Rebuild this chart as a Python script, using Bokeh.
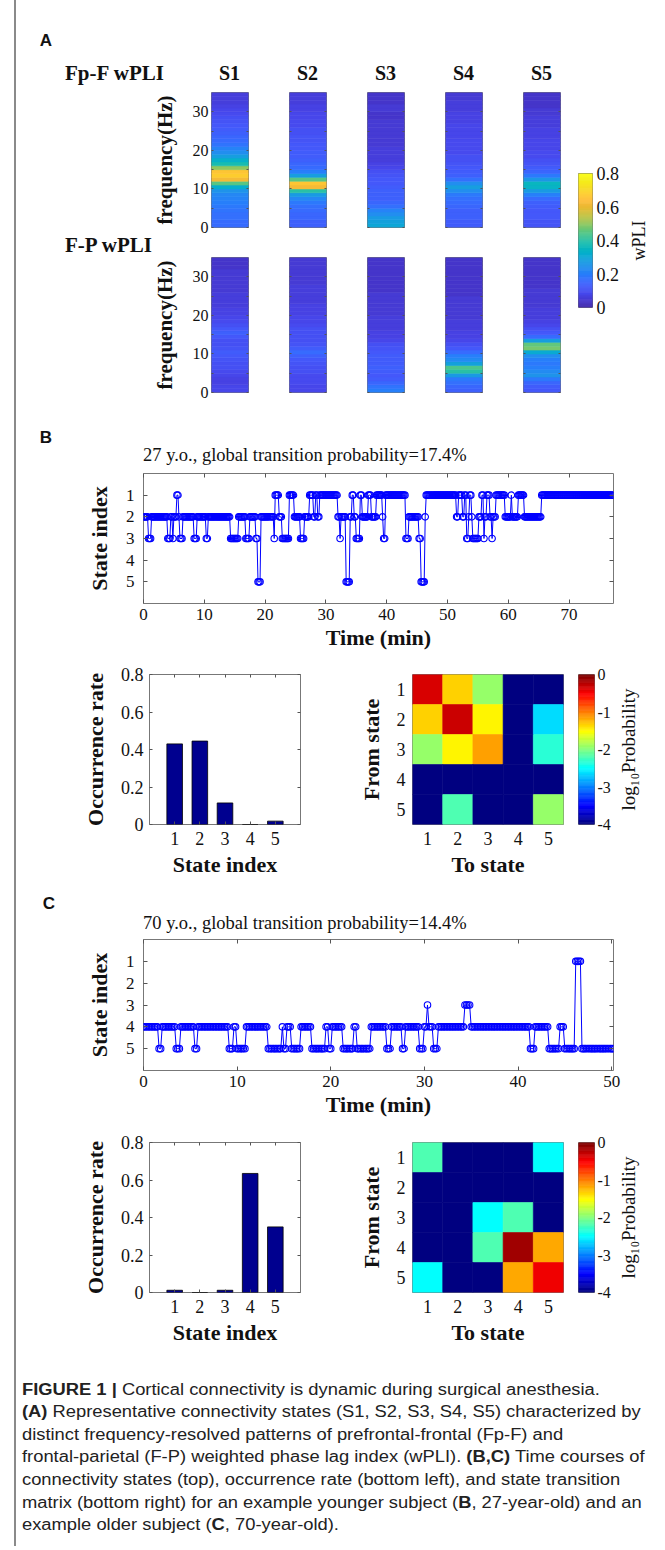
import numpy as np
from bokeh.plotting import figure
from bokeh.layouts import row, column
from bokeh.models import Div, Spacer, LinearAxis, FixedTicker, Range1d, ColumnDataSource
from bokeh.transform import linear_cmap
from bokeh.embed import file_html
from bokeh.resources import INLINE

SERIF = "Liberation Serif"
SANS = "Liberation Sans"

# ---------------- Panel A data: wPLI per 1-Hz bin (0-1 Hz ... 34-35 Hz) ----------------
state_names = ["S1", "S2", "S3", "S4", "S5"]
freq_max_hz = 35
wpli_low, wpli_high = 0.0, 0.8
wpli_ticks = [0, 0.2, 0.4, 0.6, 0.8]
freq_ticks = [0, 10, 20, 30]

fpf_S1 = [0.16, 0.16, 0.17, 0.17, 0.18, 0.19, 0.20, 0.21, 0.22, 0.25, 0.32, 0.45, 0.62, 0.68, 0.66, 0.50, 0.38, 0.33,
          0.28, 0.24, 0.21, 0.18, 0.16, 0.15, 0.14, 0.13, 0.12, 0.11, 0.10, 0.09, 0.08, 0.07, 0.06, 0.06, 0.06]
fpf_S2 = [0.14, 0.14, 0.15, 0.15, 0.16, 0.17, 0.19, 0.22, 0.27, 0.40, 0.62, 0.66, 0.45, 0.28, 0.20, 0.16, 0.15, 0.14,
          0.13, 0.13, 0.12, 0.12, 0.11, 0.11, 0.10, 0.10, 0.09, 0.09, 0.08, 0.08, 0.07, 0.07, 0.06, 0.06, 0.06]
fpf_S3 = [0.30, 0.29, 0.27, 0.24, 0.21, 0.17, 0.15, 0.14, 0.14, 0.14, 0.13, 0.12, 0.12, 0.11, 0.10, 0.08, 0.07, 0.06,
          0.06, 0.06, 0.06, 0.05, 0.05, 0.05, 0.05, 0.05, 0.05, 0.05, 0.04, 0.04, 0.05, 0.05, 0.04, 0.04, 0.04]
fpf_S4 = [0.13, 0.13, 0.14, 0.14, 0.14, 0.15, 0.16, 0.17, 0.19, 0.24, 0.28, 0.24, 0.17, 0.14, 0.13, 0.12, 0.11, 0.10,
          0.10, 0.09, 0.09, 0.09, 0.09, 0.08, 0.08, 0.08, 0.08, 0.07, 0.07, 0.07, 0.06, 0.06, 0.06, 0.05, 0.05]
fpf_S5 = [0.11, 0.11, 0.12, 0.12, 0.12, 0.13, 0.14, 0.16, 0.20, 0.27, 0.34, 0.35, 0.26, 0.19, 0.15, 0.13, 0.11, 0.10,
          0.09, 0.09, 0.08, 0.08, 0.08, 0.07, 0.07, 0.07, 0.06, 0.06, 0.06, 0.05, 0.05, 0.04, 0.04, 0.04, 0.04]

fp_S1 = [0.08, 0.08, 0.07, 0.07, 0.08, 0.09, 0.10, 0.10, 0.11, 0.12, 0.13, 0.11, 0.10, 0.10, 0.12, 0.14, 0.12, 0.10,
         0.09, 0.08, 0.07, 0.07, 0.06, 0.06, 0.06, 0.06, 0.05, 0.05, 0.05, 0.05, 0.05, 0.05, 0.04, 0.04, 0.04]
fp_S2 = [0.08, 0.08, 0.09, 0.09, 0.09, 0.10, 0.10, 0.11, 0.12, 0.14, 0.16, 0.13, 0.11, 0.10, 0.10, 0.10, 0.10, 0.09,
         0.08, 0.08, 0.07, 0.07, 0.07, 0.06, 0.06, 0.06, 0.06, 0.06, 0.05, 0.05, 0.05, 0.05, 0.05, 0.05, 0.05]
fp_S3 = [0.20, 0.18, 0.15, 0.13, 0.12, 0.13, 0.14, 0.13, 0.13, 0.13, 0.12, 0.11, 0.10, 0.08, 0.07, 0.07, 0.06, 0.06,
         0.06, 0.06, 0.05, 0.05, 0.05, 0.05, 0.05, 0.05, 0.04, 0.04, 0.04, 0.04, 0.04, 0.04, 0.04, 0.04, 0.04]
fp_S4 = [0.14, 0.15, 0.17, 0.19, 0.27, 0.40, 0.44, 0.29, 0.23, 0.20, 0.16, 0.12, 0.10, 0.08, 0.07, 0.07, 0.06, 0.06,
         0.06, 0.05, 0.05, 0.05, 0.05, 0.05, 0.05, 0.04, 0.04, 0.04, 0.04, 0.04, 0.04, 0.04, 0.04, 0.04, 0.04]
fp_S5 = [0.12, 0.13, 0.15, 0.19, 0.25, 0.23, 0.20, 0.19, 0.20, 0.24, 0.31, 0.48, 0.46, 0.28, 0.16, 0.12, 0.10, 0.08,
         0.07, 0.06, 0.06, 0.06, 0.05, 0.05, 0.05, 0.05, 0.05, 0.04, 0.04, 0.04, 0.04, 0.04, 0.04, 0.04, 0.04]

fpf_rows = [fpf_S1, fpf_S2, fpf_S3, fpf_S4, fpf_S5]
fp_rows = [fp_S1, fp_S2, fp_S3, fp_S4, fp_S5]

# ---------------- Panels B, C: state time courses (change points, minutes) ----------------
sample_dt_min = 1.0 / 6.0
state_ticks = [1, 2, 3, 4, 5]

b_title = "27 y.o., global transition probability=17.4%"
b_end_min = 77.3
b_time_ticks = [0, 10, 20, 30, 40, 50, 60, 70]
b_change_min = [0.0, 0.7, 1.2, 4.0, 4.4, 4.7, 5.0, 5.4, 5.8, 6.0, 6.5, 8.3, 8.8, 10.3, 10.6, 14.3, 15.6, 16.8, 17.5,
                18.5, 18.8, 19.3, 21.4, 21.6, 22.2, 22.7, 23.9, 24.8, 25.8, 26.5, 27.3, 27.9, 28.2, 28.6, 28.9, 31.9,
                32.2, 32.5, 33.3, 34.0, 34.3, 34.6, 35.0, 35.6, 36.0, 37.0, 37.4, 38.3, 39.2, 39.4, 39.7, 43.1, 43.6,
                45.3, 45.6, 46.2, 46.4, 51.5, 51.8, 52.5, 52.8, 53.1, 53.4, 53.6, 53.9, 54.1, 55.1, 55.6, 55.9, 56.1,
                56.5, 56.9, 57.2, 57.5, 58.0, 59.4, 60.4, 60.6, 61.6, 62.6, 65.5]
b_change_state = [2, 3, 2, 3, 2, 3, 2, 1, 2, 3, 2, 3, 2, 3, 2, 3, 2, 3, 2,
                  3, 5, 2, 3, 1, 2, 3, 1, 2, 3, 2, 1, 2, 1, 2, 1, 2,
                  3, 2, 5, 2, 1, 2, 3, 1, 2, 1, 2, 1, 2, 3, 1, 3, 2,
                  3, 5, 2, 1, 2, 1, 2, 1, 3, 2, 1, 2, 3, 2, 1, 3, 2,
                  1, 2, 3, 2, 1, 2, 1, 2, 1, 2, 1]
b_occurrence = [0.43, 0.445, 0.115, 0.0, 0.018]
b_log10_tp = [[-0.35, -1.32, -1.91, -4.0, -4.0],
              [-1.32, -0.30, -1.46, -4.0, -2.64],
              [-1.91, -1.46, -1.13, -4.0, -2.34],
              [-4.0, -4.0, -4.0, -4.0, -4.0],
              [-4.0, -2.19, -4.0, -4.0, -1.91]]

c_title = "70 y.o., global transition probability=14.4%"
c_end_min = 50.2
c_time_ticks = [0, 10, 20, 30, 40, 50]
c_change_min = [0.0, 1.6, 1.9, 3.5, 3.9, 5.4, 5.7, 9.1, 9.6, 10.0, 10.9, 13.2, 14.8, 15.0, 15.3, 15.8, 16.8, 17.9,
                19.5, 19.8, 20.1, 21.3, 22.4, 22.7, 24.2, 26.0, 26.5, 27.6, 27.9, 29.4, 29.9, 30.2, 30.5, 31.0, 31.4,
                34.3, 34.9, 41.3, 41.8, 43.2, 44.4, 45.0, 46.1, 46.8]
c_change_state = [4, 5, 4, 5, 4, 5, 4, 5, 4, 5, 4, 5, 4, 5, 4, 5, 4, 5,
                  4, 5, 4, 5, 4, 5, 4, 5, 4, 5, 4, 5, 4, 3, 4, 5, 4,
                  3, 4, 5, 4, 5, 4, 5, 1, 5]
c_occurrence = [0.012, 0.0, 0.012, 0.635, 0.35]
c_log10_tp = [[-2.19, -4.0, -4.0, -4.0, -2.5],
              [-4.0, -4.0, -4.0, -4.0, -4.0],
              [-4.0, -4.0, -2.5, -2.2, -4.0],
              [-4.0, -4.0, -2.2, -0.13, -1.17],
              [-2.5, -4.0, -4.0, -1.17, -0.44]]

occ_ticks = [0, 0.2, 0.4, 0.6, 0.8]
logp_ticks = [-4, -3, -2, -1, 0]

caption_lines = [
    "<b>FIGURE 1 |</b> Cortical connectivity is dynamic during surgical anesthesia.",
    "<b>(A)</b> Representative connectivity states (S1, S2, S3, S4, S5) characterized by",
    "distinct frequency-resolved patterns of prefrontal-frontal (Fp-F) and",
    "frontal-parietal (F-P) weighted phase lag index (wPLI). <b>(B,C)</b> Time courses of",
    "connectivity states (top), occurrence rate (bottom left), and state transition",
    "matrix (bottom right) for an example younger subject (<b>B</b>, 27-year-old) and an",
    "example older subject (<b>C</b>, 70-year-old).",
]

# ---------------- palettes ----------------
_parula_anchors = [
    (0.2422, 0.1504, 0.6603), (0.2719, 0.2130, 0.8000), (0.2803, 0.2782, 0.9221), (0.2650, 0.3450, 0.9800),
    (0.2173, 0.4191, 0.9971), (0.1540, 0.4970, 0.9830), (0.1326, 0.5609, 0.9336), (0.0874, 0.6196, 0.8740),
    (0.0228, 0.6831, 0.8083), (0.0402, 0.7230, 0.7310), (0.1540, 0.7520, 0.6540), (0.2940, 0.7740, 0.5520),
    (0.4660, 0.7840, 0.4360), (0.6410, 0.7780, 0.3310), (0.7880, 0.7580, 0.2440), (0.9100, 0.7320, 0.2000),
    (0.9950, 0.7380, 0.2300), (0.9930, 0.8000, 0.1800), (0.9650, 0.8700, 0.1500), (0.9600, 0.9300, 0.1000),
    (0.9769, 0.9839, 0.0805)]


def _hex(cols):
    return ["#%02x%02x%02x" % tuple(int(round(255 * max(0, min(1, c)))) for c in col) for col in cols]


def make_parula(n=256):
    a = np.array(_parula_anchors)
    pos = np.linspace(0, 1, len(a))
    t = np.linspace(0, 1, n)
    return _hex(np.stack([np.interp(t, pos, a[:, i]) for i in range(3)], 1))


def make_jet(n=256):
    t = np.linspace(0, 1, n)
    r = np.clip(np.minimum(4 * t - 1.5, -4 * t + 4.5), 0, 1)
    g = np.clip(np.minimum(4 * t - 0.5, -4 * t + 3.5), 0, 1)
    b = np.clip(np.minimum(4 * t + 0.5, -4 * t + 2.5), 0, 1)
    return _hex(np.stack([r, g, b], 1))


PARULA = make_parula()
JET = make_jet()
BOX = "#777777"
TXT = "#111111"


# ---------------- helpers ----------------
def mkfig(w, h, l, r, t, b, xr, yr, outline=BOX):
    p = figure(width=w, height=h, x_range=xr, y_range=yr,
               min_border_left=l, min_border_right=r, min_border_top=t, min_border_bottom=b,
               toolbar_location=None, output_backend="svg",
               x_axis_location=None, y_axis_location=None,
               outline_line_color=outline, outline_line_width=1,
               background_fill_color="white", border_fill_color=None)
    p.grid.visible = False
    return p


def add_axis(p, side, ticks, show=True, size=16, standoff=5, tick_in=4, overrides=None,
             label=None, lsize=22, lstand=10, lbold=True):
    ax = LinearAxis(ticker=FixedTicker(ticks=list(ticks), minor_ticks=[]))
    ax.axis_line_color = None
    ax.major_tick_in = tick_in
    ax.major_tick_out = 0
    ax.minor_tick_in = 0
    ax.minor_tick_out = 0
    ax.major_tick_line_color = "#555555"
    if show:
        ax.major_label_text_font = SERIF
        ax.major_label_text_font_size = f"{size}px"
        ax.major_label_text_color = TXT
        ax.major_label_standoff = standoff
        if overrides:
            ax.major_label_overrides = overrides
    else:
        ax.major_label_text_font_size = "0px"
        ax.major_label_standoff = 0
        ax.major_label_overrides = {tk: "" for tk in ticks}
    if label:
        ax.axis_label = label
        ax.axis_label_text_font = SERIF
        ax.axis_label_text_font_size = f"{lsize}px"
        ax.axis_label_text_font_style = "bold" if lbold else "normal"
        ax.axis_label_text_color = TXT
        ax.axis_label_standoff = lstand
    p.add_layout(ax, side)
    return ax


def span(x, y, html, font, size, weight="normal", center=False, color=TXT, sx=None):
    tr = "translate(-50%,-50%)" if center else "translate(0,-50%)"
    if sx:
        tr += f" scaleX({sx})"
    return (f'<span style="position:absolute;left:{x}px;top:{y}px;transform:{tr};transform-origin:0 50%;'
            f"font-family:'{font}';font-size:{size}px;font-weight:{weight};line-height:1;"
            f'white-space:nowrap;color:{color};">{html}</span>')


def text_div(w, h, spans):
    html = f'<div style="position:relative;width:{w}px;height:{h}px;">' + "".join(spans) + "</div>"
    return Div(text=html, width=w, height=h, margin=0, styles={"overflow": "visible"})


def strip(vals, first, w, l, r):
    p = mkfig(w, 147, l, r, 2, 10, Range1d(0, 1), Range1d(0, freq_max_hz))
    edges = np.arange(0, freq_max_hz + 1)
    src = ColumnDataSource(dict(bottom=edges[:-1], top=edges[1:], v=vals))
    cmap = linear_cmap("v", PARULA, wpli_low, wpli_high)
    p.quad(left=0, right=1, bottom="bottom", top="top", source=src, fill_color=cmap, line_color=cmap, line_width=0.6)
    ticks5 = [0, 5, 10, 15, 20, 25, 30]
    if first:
        add_axis(p, "left", ticks5, size=16, standoff=3, tick_in=2, overrides={5: "", 15: "", 25: ""},
                 label="frequency(Hz)", lsize=21, lstand=13)
    else:
        add_axis(p, "left", ticks5, show=False, tick_in=2)
    add_axis(p, "right", ticks5, show=False, tick_in=2)
    return p


def colorbar_fig(w, h, l, r, t, b, low, high, pal, ticks, size, standoff, fmt):
    p = mkfig(w, h, l, r, t, b, Range1d(0, 1), Range1d(low, high))
    n = 128
    edges = np.linspace(low, high, n + 1)
    idx = np.linspace(0, len(pal) - 1, n).round().astype(int)
    cols = [pal[i] for i in idx]
    p.quad(left=0, right=1, bottom=edges[:-1], top=edges[1:], fill_color=cols, line_color=cols, line_width=0.6)
    add_axis(p, "right", ticks, size=size, standoff=standoff, tick_in=0,
             overrides={tk: fmt(tk) for tk in ticks})
    return p


def label_fig(w, h, l, t, b, low, high, label, lsize):
    # carries only the colour-bar title, as a left-axis label reading bottom-to-top
    p = mkfig(w, h, l, w - l - 6, t, b, Range1d(0, 1), Range1d(low, high), outline=None)
    p.background_fill_color = None
    add_axis(p, "left", [], show=False, tick_in=0, label=label, lsize=lsize, lstand=2, lbold=False)
    return p


def expand_states(change_min, change_state, end_min, dt):
    t = np.arange(0, end_min + 1e-9, dt)
    idx = np.searchsorted(np.array(change_min), t + 1e-9, side="right") - 1
    return t, np.array(change_state)[idx]


def timecourse(change_min, change_state, end_min, ticks, frame_h):
    p = mkfig(641, 4 + frame_h + 42, 127, 44, 4, 42, Range1d(0, end_min), Range1d(6, 0))
    t, s = expand_states(change_min, change_state, end_min, sample_dt_min)
    src = ColumnDataSource(dict(t=t, s=s))
    p.line("t", "s", source=src, line_color="#0000ff", line_width=1)
    p.scatter("t", "s", source=src, marker="circle", size=6.5, fill_color=None, line_color="#0000ff",
              line_width=1.1)
    add_axis(p, "left", state_ticks, size=17, standoff=9, tick_in=4, label="State index", lsize=22, lstand=11)
    add_axis(p, "below", ticks, size=17, standoff=5, tick_in=4, label="Time (min)", lsize=22, lstand=2)
    add_axis(p, "right", state_ticks, show=False, tick_in=4)
    add_axis(p, "above", ticks, show=False, tick_in=4)
    return p


def bars(vals, h, top):
    p = mkfig(324, h, 133, 40, top, 60, Range1d(0, 6), Range1d(0, 0.8))
    p.vbar(x=state_ticks, top=vals, bottom=0, width=0.62, fill_color="#00008f", line_color="#000000",
           line_width=0.8)
    add_axis(p, "left", occ_ticks, size=18, standoff=6, tick_in=3,
             overrides={0: "0", 0.2: "0.2", 0.4: "0.4", 0.6: "0.6", 0.8: "0.8"},
             label="Occurrence rate", lsize=22, lstand=10)
    add_axis(p, "below", state_ticks, size=18, standoff=7, tick_in=3, label="State index", lsize=22, lstand=4)
    add_axis(p, "right", occ_ticks, show=False, tick_in=3)
    add_axis(p, "above", state_ticks, show=False, tick_in=3)
    return p


def matrix(vals, h, top):
    p = mkfig(230, h, 72, 7, top, 60, Range1d(0.5, 5.5), Range1d(5.5, 0.5))
    xs, ys, vs = [], [], []
    for i, rowv in enumerate(vals):
        for j, v in enumerate(rowv):
            xs.append(state_ticks[j]); ys.append(state_ticks[i]); vs.append(v)
    src = ColumnDataSource(dict(x=xs, y=ys, v=vs))
    cmap = linear_cmap("v", JET, -4, 0)
    p.rect(x="x", y="y", width=1, height=1, source=src, fill_color=cmap, line_color=cmap, line_width=0.6)
    add_axis(p, "left", state_ticks, size=18, standoff=7, tick_in=0, label="From state", lsize=22, lstand=10)
    add_axis(p, "below", state_ticks, size=18, standoff=7, tick_in=0, label="To state", lsize=22, lstand=4)
    return p


# ---------------- Panel A ----------------
headA = text_div(552, 82, [
    span(30, 32, "A", SANS, 17, "bold", center=True),
    span(49, 65, "Fp-F wPLI", SERIF, 21, "bold"),
] + [span(213.5 + 78 * i, 65, nm, SERIF, 20, "bold", center=True) for i, nm in enumerate(state_names)])
midA = text_div(552, 18, [span(49, 8, "F-P wPLI", SERIF, 21, "bold")])


def strip_row(rows):
    figs = []
    for i, vals in enumerate(rows):
        if i == 0:
            figs.append(strip(vals, True, 240, 195, 8))
        else:
            figs.append(strip(vals, False, 78, 33, 8))
    return row(figs, spacing=0)


colA = column([headA, strip_row(fpf_rows), midA, strip_row(fp_rows)], spacing=0)
cbarA = colorbar_fig(57, 154, 10, 33, 10, 10, wpli_low, wpli_high, PARULA, wpli_ticks, 18, 4,
                     lambda v: ("0" if v == 0 else f"{v:.1f}"))
labA = label_fig(32, 154, 21, 10, 10, wpli_low, wpli_high, "wPLI", 18)
panelA = row([colA, column([Spacer(width=89, height=155), row([cbarA, labA], spacing=0)], spacing=0)],
             spacing=0)

# ---------------- Panel B ----------------
LOGP = "log\u2081\u2080Probability"
headB = text_div(641, 67, [
    span(30, 35, "B", SANS, 17, "bold", center=True),
    span(127, 53, b_title, SERIF, 18.5),
])
tsB = timecourse(b_change_min, b_change_state, b_end_min, b_time_ticks, 137)
cbB = colorbar_fig(44, 232, 8, 20, 22, 60, -4, 0, JET, logp_ticks, 16, 3, lambda v: str(int(v)))
labB = label_fig(43, 232, 25, 22, 60, -4, 0, LOGP, 19)
bottomB = row([bars(b_occurrence, 232, 22), matrix(b_log10_tp, 232, 22), cbB, labB], spacing=0)

# ---------------- Panel C ----------------
headC = text_div(641, 51, [
    span(33, 19, "C", SANS, 17, "bold", center=True),
    span(127, 39, c_title, SERIF, 18.5),
])
tsC = timecourse(c_change_min, c_change_state, c_end_min, c_time_ticks, 138)
cbC = colorbar_fig(44, 233, 8, 20, 23, 60, -4, 0, JET, logp_ticks, 16, 3, lambda v: str(int(v)))
labC = label_fig(43, 233, 25, 23, 60, -4, 0, LOGP, 19)
bottomC = row([bars(c_occurrence, 233, 23), matrix(c_log10_tp, 233, 23), cbC, labC], spacing=0)

# ---------------- caption ----------------
cap_y = [38, 60, 83, 105, 128, 151, 173]
caption = text_div(641, 188, [span(6, y, ln, SANS, 16, "normal", color="#222222", sx=1.146)
                              for y, ln in zip(cap_y, caption_lines)])

main = column([Spacer(width=641, height=8), panelA, headB, tsB, bottomB, headC, tsC, bottomC, caption],
              spacing=0)
vline = Div(text="", width=2, height=1546, margin=0, styles={"background-color": "#8a8a8a"})
root = row([Spacer(width=14, height=10), vline, main], spacing=0)

open("out.html", "w").write(file_html(root, INLINE, "Figure 1"))
